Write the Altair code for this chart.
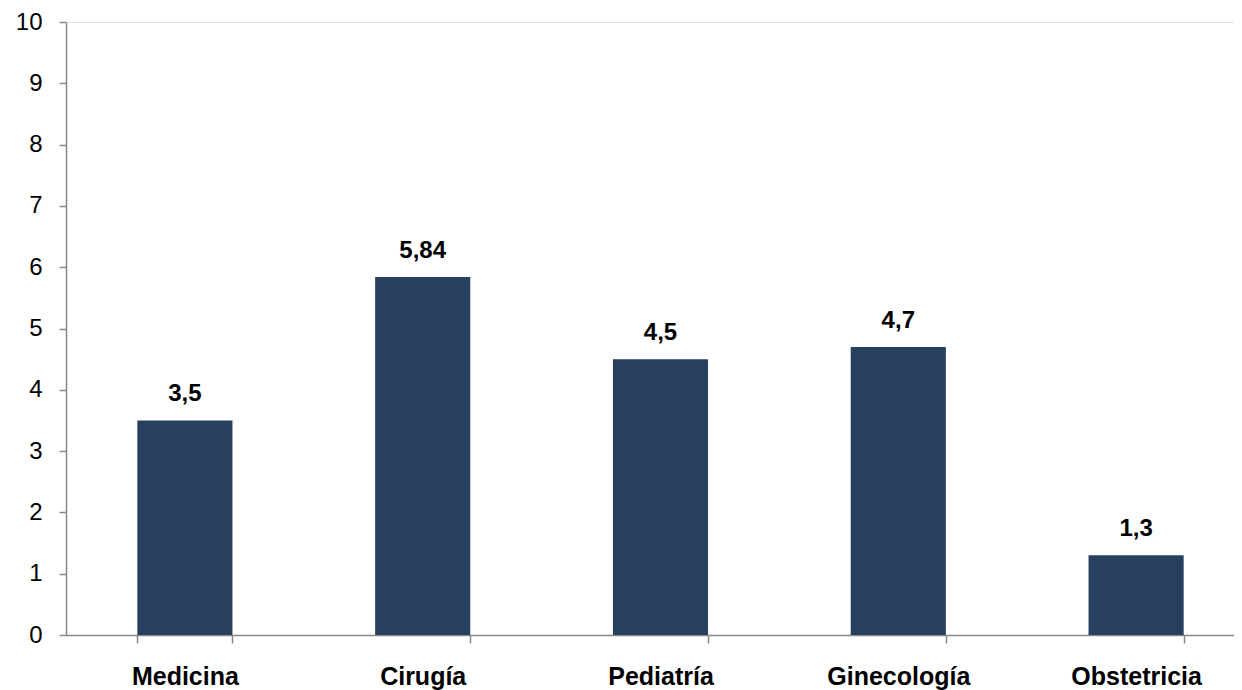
import altair as alt
import pandas as pd

categories = ["Medicina", "Cirugía", "Pediatría", "Ginecología", "Obstetricia"]
values = [3.5, 5.84, 4.5, 4.7, 1.3]
value_labels = ["3,5", "5,84", "4,5", "4,7", "1,3"]
y_ticks = [0, 1, 2, 3, 4, 5, 6, 7, 8, 9, 10]

df = pd.DataFrame({"cat": categories, "val": values, "lab": value_labels})

AX = "#898989"
FONT = "Liberation Sans"

x_enc = alt.X(
    "cat:N", sort=categories, title=None,
    scale=alt.Scale(paddingInner=0.6, paddingOuter=0.3, range=[0, 1189]),
    axis=alt.Axis(labelAngle=0, labelFont=FONT, labelFontSize=25, labelFontWeight="bold",
                  labelColor="#000000", labelPadding=21, tickBand="extent", tickSize=8,
                  tickColor=AX, tickWidth=1.5, domainColor=AX, domainWidth=1.5, grid=False),
)
y_enc = alt.Y(
    "val:Q", title=None,
    scale=alt.Scale(domain=[0, 10], nice=False),
    axis=alt.Axis(values=y_ticks, grid=False, labelFont=FONT, labelFontSize=24,
                  labelColor="#000000", labelPadding=17, tickSize=7, tickColor=AX,
                  tickWidth=1.5, domainColor=AX, domainWidth=1.5),
)

base = alt.Chart(df)
bars = base.mark_bar(color="#27405f").encode(x=x_enc, y=y_enc)
text = base.mark_text(dy=-19, baseline="alphabetic", align="center", font=FONT, fontSize=24,
                      fontWeight="bold", color="#000000").encode(x=x_enc, y=y_enc, text="lab:N")

chart = (bars + text).properties(
    width=1168, height=613,
    autosize=alt.AutoSizeParams(type="none"),
    padding={"left": 58, "top": 14, "right": 0, "bottom": 60},
).configure_view(stroke=None).configure(background="white")

chart.save("out.html", embed_options={"renderer": "svg", "actions": False})
